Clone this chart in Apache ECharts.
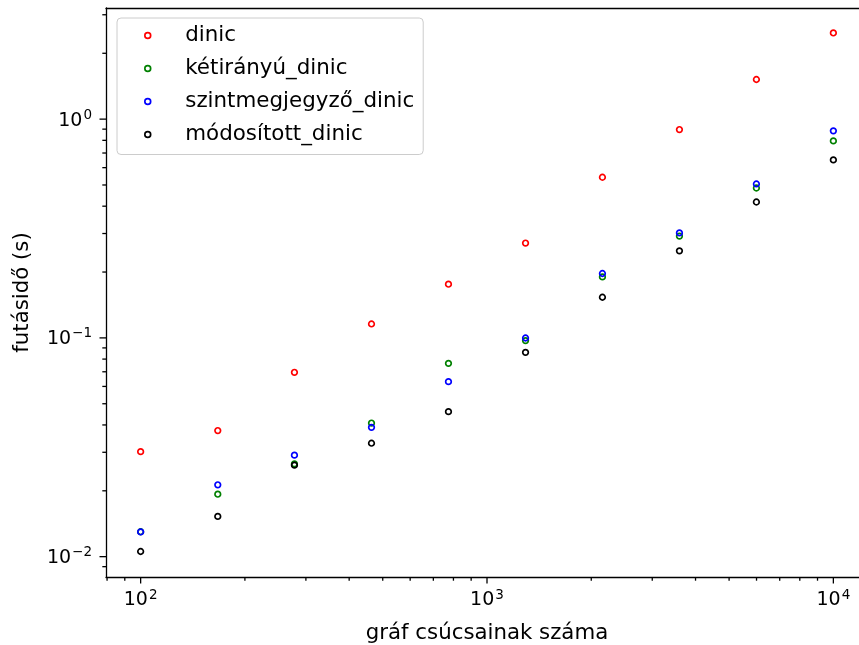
<!DOCTYPE html>
<html><head><meta charset="utf-8">
<script src="https://cdn.jsdelivr.net/npm/echarts@6/dist/echarts.min.js"></script>
<style>html,body{margin:0;padding:0;background:#fff}#c{width:859px;height:645px}</style>
</head><body><div id="c"></div>
<script>
// ---- data ----
const xValues = [100, 167, 278, 464, 774, 1292, 2154, 3594, 5995, 10000];
const seriesNames = ['dinic', 'kétirányú_dinic', 'szintmegjegyző_dinic', 'módosított_dinic'];
const dinic = [0.0302, 0.0377, 0.0696, 0.1158, 0.176, 0.2713, 0.5424, 0.896, 1.518, 2.477];
const ketiranyu = [0.0130, 0.0193, 0.02655, 0.0408, 0.0765, 0.0972, 0.190, 0.292, 0.4844, 0.7954];
const szintmegjegyzo = [0.01297, 0.0213, 0.0291, 0.0390, 0.0631, 0.0999, 0.197, 0.302, 0.5054, 0.884];
const modositott = [0.01056, 0.01528, 0.0262, 0.0330, 0.0460, 0.0859, 0.1534, 0.250, 0.418, 0.651];
const xTickValues = [100, 1000, 10000];
const yTickValues = [0.01, 0.1, 1];
const xLabel = 'gráf csúcsainak száma';
const yLabel = 'futásidő (s)';
// ---- styling ----
const colors = ['#ff0000', '#008000', '#0000ff', '#000000'];
const FONT = 'DejaVu Sans';
const xMin = Math.pow(10, 1.9), xMax = Math.pow(10, 4.1);
const yMin = Math.pow(10, -2.093), yMax = Math.pow(10, 0.508);

function minorTicks(lo, hi) {
  const out = [];
  const d0 = Math.floor(Math.log10(lo)), d1 = Math.ceil(Math.log10(hi));
  for (let d = d0; d <= d1; d++) {
    for (let m = 2; m <= 9; m++) {
      const v = m * Math.pow(10, d);
      if (v >= lo && v <= hi) out.push(v);
    }
  }
  return out;
}
const xMinor = minorTicks(xMin, xMax);
const yMinor = minorTicks(yMin, yMax);
const MAJ = 6.5, MIN = 3.7;
const xTickData = xTickValues.map(v => [v, yMin, MAJ]).concat(xMinor.map(v => [v, yMin, MIN]));
const yTickData = yTickValues.map(v => [xMin, v, MAJ]).concat(yMinor.map(v => [xMin, v, MIN]));

function powLabel(v) {
  const e = Math.log10(v);
  const r = Math.round(e);
  if (Math.abs(e - r) > 1e-6) return '';
  const s = r < 0 ? '\u2212' + (-r) : String(r);
  return '{b|10}{s|' + s + '}';
}
const rich = {
  b: { fontSize: 19, lineHeight: 22, verticalAlign: 'bottom', fontFamily: FONT, color: '#000' },
  s: { fontSize: 13.5, lineHeight: 14, verticalAlign: 'top', fontFamily: FONT, color: '#000', padding: [0, 0, 0, 1] }
};
const spine = { show: true, lineStyle: { color: '#000', width: 1.3 } };

const dataSets = [dinic, ketiranyu, szintmegjegyzo, modositott];
const scatterSeries = dataSets.map((arr, i) => ({
  name: seriesNames[i],
  type: 'scatter',
  symbol: 'circle',
  symbolSize: 5.6,
  itemStyle: { color: 'rgba(0,0,0,0)', borderColor: colors[i], borderWidth: 1.7, opacity: 1 },
  emphasis: { disabled: true },
  data: xValues.map((x, j) => [x, arr[j]]),
  z: 3
}));

function tickSeries(data, dir) {
  return {
    type: 'custom',
    silent: true,
    clip: false,
    z: 5,
    data: data,
    encode: { x: 0, y: 1 },
    renderItem: function (params, api) {
      const p = api.coord([api.value(0), api.value(1)]);
      const len = api.value(2);
      const shape = dir === 'x'
        ? { x1: p[0], y1: p[1], x2: p[0], y2: p[1] + len }
        : { x1: p[0], y1: p[1], x2: p[0] - len, y2: p[1] };
      return { type: 'line', shape: shape, style: { stroke: '#000', lineWidth: 1.3 } };
    }
  };
}

const chart = echarts.init(document.getElementById('c'), null, { renderer: 'canvas' });
chart.setOption({
  animation: false,
  backgroundColor: '#ffffff',
  textStyle: { fontFamily: FONT },
  grid: { left: 106, width: 762, top: 8, height: 569, outerBoundsMode: 'none', containLabel: false, show: false },
  legend: {
    orient: 'vertical',
    left: 117, top: 18,
    padding: [6.5, 9, 9, 27],
    itemGap: 11,
    itemWidth: 60, itemHeight: 5.8,
    backgroundColor: 'rgba(255,255,255,0.8)',
    borderColor: '#cccccc', borderWidth: 1, borderRadius: 4,
    textStyle: { fontSize: 21.4, lineHeight: 22, color: '#000', fontFamily: FONT, padding: [0, 0, 0, 2.5] },
    selectedMode: false,
    data: seriesNames.map((n, i) => ({ name: n, icon: 'circle', itemStyle: { color: 'rgba(0,0,0,0)', borderColor: colors[i], borderWidth: 1.7 } }))
  },
  xAxis: [{
    type: 'log', logBase: 10, min: xMin, max: xMax, position: 'bottom',
    axisLine: spine, axisTick: { show: false }, splitLine: { show: false },
    axisLabel: { formatter: powLabel, rich: rich, margin: 11, showMinLabel: false, showMaxLabel: false },
    name: xLabel, nameLocation: 'middle', nameGap: 46,
    nameTextStyle: { fontSize: 21.3, color: '#000', fontFamily: FONT }
  }, {
    type: 'log', logBase: 10, min: xMin, max: xMax, position: 'top',
    axisLine: spine, axisTick: { show: false }, axisLabel: { show: false }, splitLine: { show: false }
  }],
  yAxis: {
    type: 'log', logBase: 10, min: yMin, max: yMax,
    axisLine: spine, axisTick: { show: false }, splitLine: { show: false },
    axisLabel: { formatter: powLabel, rich: rich, margin: 14, showMinLabel: false, showMaxLabel: false },
    name: yLabel, nameLocation: 'middle', nameGap: 73,
    nameTextStyle: { fontSize: 21.3, color: '#000', fontFamily: FONT }
  },
  series: scatterSeries.concat([tickSeries(xTickData, 'x'), tickSeries(yTickData, 'y')])
});
</script>
</body></html>
